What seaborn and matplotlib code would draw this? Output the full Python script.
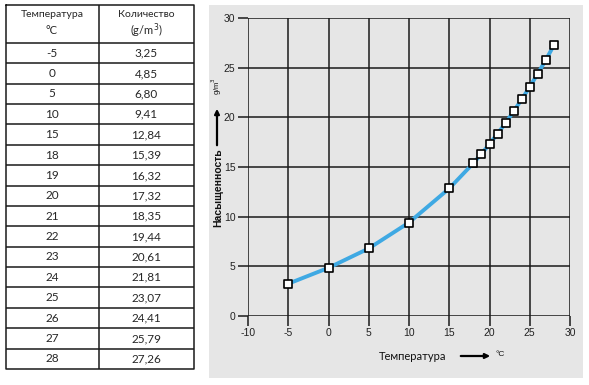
import numpy as np
import pandas as pd
import matplotlib
matplotlib.use('Agg')
import matplotlib.pyplot as plt
from matplotlib.patches import Rectangle, FancyArrowPatch
import seaborn as sns

# ── Data ──────────────────────────────────────────────────────────────────────
temps   = [-5, 0, 5, 10, 15, 18, 19, 20, 21, 22, 23, 24, 25, 26, 27, 28]
amounts = [3.25, 4.85, 6.80, 9.41, 12.84, 15.39, 16.32, 17.32, 18.35,
           19.44, 20.61, 21.81, 23.07, 24.41, 25.79, 27.26]
x_ticks = [-10, -5, 0, 5, 10, 15, 20, 25, 30]
y_ticks = [0, 5, 10, 15, 20, 25, 30]
hdr_temp = ['Температура', '°C']
hdr_amt  = ['Количество', '(g/m$^3$)']

df = pd.DataFrame({'t': temps, 'a': amounts})

W, H = 589, 385
sns.set_theme(style='white')
plt.rcParams['font.family'] = ['Liberation Sans', 'DejaVu Sans']
plt.rcParams['axes.unicode_minus'] = False

fig = plt.figure(figsize=(W / 100, H / 100), dpi=100)
fig.patch.set_facecolor('white')

def fx(px): return px / W
def fy(py): return 1 - py / H

# ── Grey panel behind chart ──────────────────────────────────────────────────
panel = Rectangle((fx(209), fy(378)), fx(583) - fx(209), fy(5) - fy(378),
                  transform=fig.transFigure, facecolor='#e6e6e6',
                  edgecolor='none', zorder=-5)
fig.patches.append(panel)

# ── Table ─────────────────────────────────────────────────────────────────────
tab = fig.add_axes([fx(6), fy(369), fx(194) - fx(6), fy(5) - fy(369)])
tab.set_xlim(6, 194); tab.set_ylim(369, 5)
tab.axis('off')
lc = '#1a1a1a'
tab.plot([6, 194, 194, 6, 6], [5, 5, 369, 369, 5], color=lc, lw=1.1, clip_on=False)
tab.plot([99, 99], [5, 369], color=lc, lw=1.1)
row_top = 43
row_h = (369 - row_top) / len(temps)
for i in range(len(temps)):
    y = row_top + i * row_h
    tab.plot([6, 194], [y, y], color=lc, lw=1.1)
tfont = ['Lato', 'DejaVu Sans']
tab.text(52, 15, hdr_temp[0], ha='center', va='center', fontsize=7.5, family=tfont)
tab.text(52, 31, hdr_temp[1], ha='center', va='center', fontsize=8, family=tfont)
tab.text(146, 15, hdr_amt[0], ha='center', va='center', fontsize=7.5, family=tfont)
tab.text(146, 31, hdr_amt[1], ha='center', va='center', fontsize=8, family=tfont)
for i, (t, a) in enumerate(zip(temps, amounts)):
    yc = row_top + (i + 0.5) * row_h
    tab.text(52, yc, str(t), ha='center', va='center', fontsize=8.5, family=tfont)
    tab.text(146, yc, f'{a:.2f}'.replace('.', ','), ha='center', va='center',
             fontsize=8.5, family=tfont)

# ── Chart ─────────────────────────────────────────────────────────────────────
ax = fig.add_axes([fx(248), fy(316), fx(570) - fx(248), fy(18) - fy(316)])
ax.set_zorder(2)
ax.set_facecolor('#e6e6e6')
sns.lineplot(data=df, x='t', y='a', ax=ax, color='#3fa9e3', lw=2.8,
             zorder=3, solid_capstyle='round')
sns.scatterplot(data=df, x='t', y='a', ax=ax, marker='s', s=28,
                facecolor='white', edgecolor='black', linewidth=1.2, zorder=4)
ax.set_xlim(-10, 30); ax.set_ylim(0, 30)
ax.set_xticks(x_ticks); ax.set_yticks(y_ticks)
ax.grid(True, color='#1a1a1a', lw=1.1)
for s in ax.spines.values():
    s.set_visible(False)
ax.tick_params(axis='both', length=7, width=1.1, color='#1a1a1a',
               labelsize=7.5, labelcolor='#222222', pad=2, direction='out',
               bottom=True, left=True)
ax.set_xlabel(''); ax.set_ylabel('')
ax.set_axisbelow(True)

# axis captions with arrows
fig.text(fx(218), fy(188), 'Насыщенность', rotation=90, ha='center', va='center',
         fontsize=7.5, fontweight='bold', color='#111111')
fig.text(fx(217), fy(86), 'g/m$^3$', rotation=90, ha='center', va='center',
         fontsize=5.5, color='#111111')
fig.add_artist(FancyArrowPatch(
    (fx(217), fy(148)), (fx(217), fy(106)), transform=fig.transFigure,
    arrowstyle='-|>', mutation_scale=7, lw=1.6, color='black'))
fig.text(fx(413), fy(357), 'Температура', ha='center', va='center',
         fontsize=8, family=tfont, color='#111111')
fig.add_artist(FancyArrowPatch(
    (fx(458), fy(356)), (fx(493), fy(356)), transform=fig.transFigure,
    arrowstyle='-|>', mutation_scale=7, lw=1.6, color='black'))
fig.text(fx(500), fy(355), '°C', ha='center', va='center', fontsize=6,
         color='#111111')

fig.savefig('out.png', dpi=100, facecolor='white')
